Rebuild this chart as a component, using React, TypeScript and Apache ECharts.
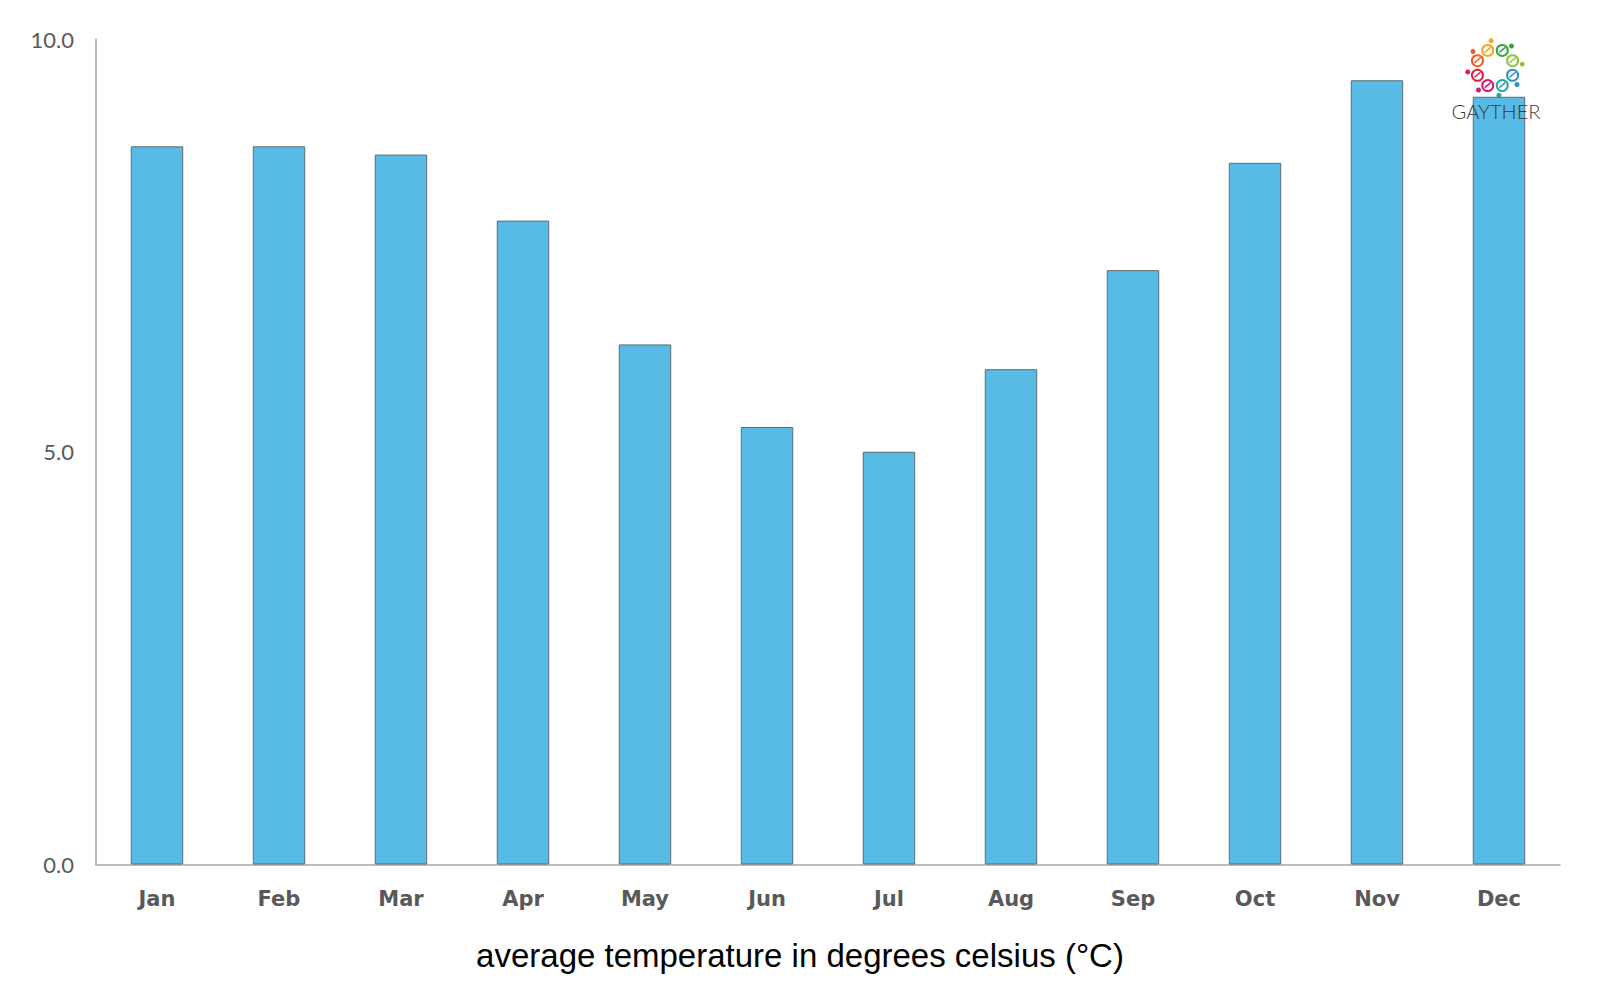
import React, { useEffect, useRef } from "react";
import * as echarts from "echarts";

const months = ["Jan", "Feb", "Mar", "Apr", "May", "Jun", "Jul", "Aug", "Sep", "Oct", "Nov", "Dec"];
const avgTemp = [8.7, 8.7, 8.6, 7.8, 6.3, 5.3, 5.0, 6.0, 7.2, 8.5, 9.5, 9.3];
const yTicks = [0, 5, 10];
const logoColors = ["#F6A71C", "#3AA346", "#8DC63F", "#2B8FCB", "#27A7A9", "#D6186E", "#E51B3F", "#F15A24"];

function logoGraphics() {
  const cx = 1495;
  const cy = 68;
  const r = 19;
  const els: any[] = [];
  logoColors.forEach((c, i) => {
    const a = (-112.5 + i * 45) * (Math.PI / 180);
    const x = cx + r * Math.cos(a);
    const y = cy + r * Math.sin(a);
    els.push({
      type: "circle",
      shape: { cx: x, cy: y, r: 5.5 },
      style: { fill: "none", stroke: c, lineWidth: 2 },
      silent: true,
    });
    els.push({
      type: "line",
      shape: { x1: x - 3, y1: y + 2, x2: x + 3, y2: y - 3 },
      style: { stroke: c, lineWidth: 1.5 },
      silent: true,
    });
    els.push({
      type: "circle",
      shape: { cx: cx + (r + 8.5) * Math.cos(a + 0.25), cy: cy + (r + 8.5) * Math.sin(a + 0.25), r: 2.5 },
      style: { fill: c },
      silent: true,
    });
  });
  els.push({
    type: "text",
    x: 1496,
    y: 111,
    style: {
      text: "GAYTHER",
      fill: "#3a3a3a",
      font: '300 20px "Lato", sans-serif',
      align: "center",
      verticalAlign: "middle",
    },
    silent: true,
    z: 100,
  });
  return els;
}

export default function App() {
  const ref = useRef<HTMLDivElement>(null);
  useEffect(() => {
    if (!ref.current) return;
    const chart = echarts.init(ref.current, undefined, { renderer: "svg" });
    chart.setOption({
      animation: false,
      backgroundColor: "#ffffff",
      grid: { left: 96, right: 40, top: 39, bottom: 135.5, containLabel: false },
      xAxis: {
        type: "category",
        data: months,
        axisLine: { show: true, lineStyle: { color: "#a6a6a6", width: 1.5 } },
        axisTick: { show: false },
        axisLabel: {
          color: "#595959",
          fontFamily: "DejaVu Sans",
          fontWeight: "bold",
          fontSize: 21,
          margin: 24,
        },
      },
      yAxis: {
        type: "value",
        min: yTicks[0],
        max: yTicks[yTicks.length - 1],
        interval: 5,
        axisLine: { show: true, lineStyle: { color: "#a6a6a6", width: 1.5 } },
        axisTick: { show: false },
        splitLine: { show: false },
        axisLabel: {
          color: "#595959",
          fontFamily: "Lato",
          fontSize: 22,
          margin: 22,
          formatter: (v: number) => v.toFixed(1),
        },
      },
      title: {
        text: "average temperature in degrees celsius (°C)",
        left: "center",
        top: 934,
        textStyle: {
          fontFamily: "Liberation Sans",
          fontWeight: "normal",
          fontSize: 33,
          color: "#000000",
        },
      },
      series: [
        {
          type: "bar",
          data: avgTemp,
          barWidth: "43%",
          itemStyle: { color: "#57BBE5", borderColor: "#5f6b70", borderWidth: 1 },
        },
      ],
      graphic: logoGraphics(),
    });
    return () => chart.dispose();
  }, []);
  return <div ref={ref} style={{ position: "fixed", left: 0, top: 0, width: 1600, height: 1000 }} />;
}
